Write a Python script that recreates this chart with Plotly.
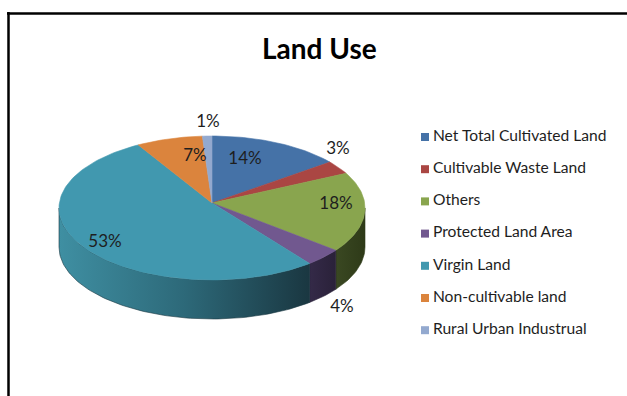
import numpy as np
import plotly.graph_objects as go

# Land use shares (percent), in clockwise order from 12 o'clock
categories = [
    "Net Total Cultivated Land",
    "Cultivable Waste Land",
    "Others",
    "Protected Land Area",
    "Virgin Land",
    "Non-cultivable land",
    "Rural Urban Industrual",
]
values = [14, 3, 18, 4, 53, 7, 1]

top_colors = ["#4572A7", "#AA4643", "#89A54E", "#71588F", "#4198AF", "#DB843D", "#93A9CF"]
side_scales = [
    [[0, "#25406a"], [1, "#1d3354"]],
    [[0, "#6b2a28"], [1, "#55201f"]],
    [[0, "#3a4822"], [1, "#2e3a18"]],
    [[0, "#342a48"], [1, "#2a2139"]],
    [[0, "#3f8fa2"], [0.5, "#2d6979"], [1, "#1a3741"]],
    [[0, "#8a5224"], [1, "#6e411c"]],
    [[0, "#5d6c86"], [1, "#4b576c"]],
]

# Pixel-space geometry of the tilted pie
W, H = 627, 396
CX, CY, RX, RY, DEPTH = 212, 208, 153, 72, 39
APEX_Y = 203
FONT = "Lato"

# Label placement (pixel centres of the percentage labels)
label_pos = [(245, 160), (338, 150), (336, 205), (342, 308), (105, 243), (195, 157), (208, 123)]


def arc(a0, a1, dy=0.0, n=None):
    if n is None:
        n = max(4, int(abs(a1 - a0) / 1.5) + 2)
    t = np.radians(np.linspace(a0, a1, n))
    return CX + RX * np.sin(t), CY - RY * np.cos(t) + dy


fig = go.Figure()

total = float(sum(values))
bounds = np.concatenate([[0.0], np.cumsum(values) / total * 360.0])

# Side walls (only the front half of the cylinder is visible)
for i, v in enumerate(values):
    a0, a1 = bounds[i], bounds[i + 1]
    s0, s1 = max(a0, 90.0), min(a1, 270.0)
    if s1 <= s0:
        continue
    xt, yt = arc(s0, s1)
    xb, yb = arc(s1, s0, DEPTH)
    xs = np.concatenate([xt, xb, xt[:1]])
    ys = np.concatenate([yt, yb, yt[:1]])
    fig.add_trace(go.Scatter(
        x=xs, y=ys, mode="lines", fill="toself",
        line=dict(width=0.6, color=side_scales[i][-1][1]),
        fillgradient=dict(type="horizontal", colorscale=side_scales[i]),
        hoverinfo="skip", showlegend=False,
    ))

# Top faces
for i, v in enumerate(values):
    a0, a1 = bounds[i], bounds[i + 1]
    xa, ya = arc(a0, a1)
    xs = np.concatenate([[CX], xa, [CX]])
    ys = np.concatenate([[APEX_Y], ya, [APEX_Y]])
    fig.add_trace(go.Scatter(
        x=xs, y=ys, mode="lines", fill="toself",
        fillcolor=top_colors[i], line=dict(width=0.6, color=top_colors[i]),
        name=categories[i], hoverinfo="name", showlegend=False,
    ))

# Percentage labels
fig.add_trace(go.Scatter(
    x=[p[0] for p in label_pos], y=[p[1] for p in label_pos],
    mode="text", text=[f"{round(v / total * 100)}%" for v in values],
    textfont=dict(family=FONT, size=17, color="#1e1e1e"),
    hoverinfo="skip", showlegend=False,
))

# Legend: square swatch plus category name per row
LEG_X, LEG_Y0, LEG_DY = 425, 137, 32.2
for i, name in enumerate(categories):
    fig.add_trace(go.Scatter(
        x=[LEG_X], y=[LEG_Y0 + i * LEG_DY], mode="markers+text",
        marker=dict(symbol="square", size=8, color=top_colors[i]),
        text=["\u2009" + name], textposition="middle right",
        textfont=dict(family=FONT, size=15.6, color="#1e1e1e"),
        hoverinfo="skip", showlegend=False,
    ))

# Chart frame (left and top edges)
fig.add_shape(type="line", x0=8.5, x1=8.5, y0=12, y1=H + 10,
              line=dict(color="#000000", width=2.5))
fig.add_shape(type="line", x0=7, x1=W + 10, y0=13.5, y1=13.5,
              line=dict(color="#000000", width=2.5))

fig.add_annotation(x=319, y=48, text="<b>Land Use</b>", showarrow=False,
                   font=dict(family=FONT, size=28, color="#000000"),
                   xanchor="center", yanchor="middle")

fig.update_layout(
    width=W, height=H,
    margin=dict(l=0, r=0, t=0, b=0),
    paper_bgcolor="white", plot_bgcolor="white",
    xaxis=dict(range=[0, W], visible=False, fixedrange=True),
    yaxis=dict(range=[H, 0], visible=False, fixedrange=True),
    showlegend=False,
)

fig.write_html("out.html")
